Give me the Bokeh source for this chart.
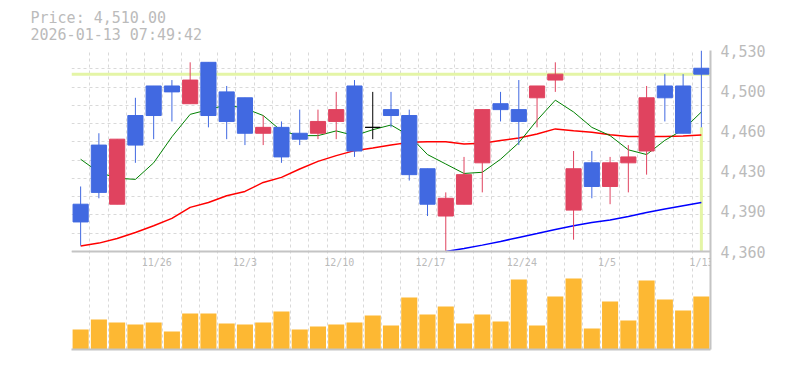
from bokeh.plotting import figure
from bokeh.models import Range1d, FixedTicker, Span, ColumnDataSource, LabelSet
from bokeh.core.properties import value
from bokeh.embed import file_html
from bokeh.resources import INLINE

# ---------------- data ----------------
dates = ["11/19", "11/20", "11/21", "11/25", "11/26", "11/27", "11/28", "12/1", "12/2", "12/3",
         "12/4", "12/5", "12/8", "12/9", "12/10", "12/11", "12/12", "12/15", "12/16", "12/17",
         "12/18", "12/19", "12/22", "12/23", "12/24", "12/25", "12/26", "12/29", "12/30", "1/5",
         "1/6", "1/7", "1/8", "1/9", "1/13"]
opens = [4400, 4450, 4400, 4475, 4500, 4500, 4485, 4520, 4495, 4490,
         4460, 4465, 4460, 4460, 4470, 4500, 4465, 4480, 4475, 4430,
         4390, 4400, 4435, 4485, 4480, 4490, 4505, 4395, 4435, 4415,
         4435, 4445, 4500, 4500, 4515]
highs = [4415, 4460, 4455, 4490, 4500, 4505, 4520, 4520, 4500, 4490,
         4475, 4470, 4480, 4480, 4495, 4505, 4495, 4495, 4480, 4430,
         4410, 4440, 4480, 4495, 4505, 4500, 4520, 4445, 4445, 4440,
         4450, 4500, 4510, 4510, 4530]
lows = [4365, 4405, 4400, 4435, 4455, 4470, 4485, 4465, 4455, 4450,
        4450, 4435, 4450, 4455, 4455, 4440, 4455, 4465, 4420, 4390,
        4360, 4400, 4410, 4470, 4450, 4465, 4495, 4370, 4405, 4400,
        4410, 4425, 4470, 4460, 4465]
closes = [4385, 4410, 4455, 4450, 4475, 4495, 4505, 4475, 4470, 4460,
          4465, 4440, 4455, 4470, 4480, 4445, 4465, 4475, 4425, 4400,
          4405, 4425, 4480, 4480, 4470, 4500, 4510, 4430, 4415, 4435,
          4440, 4490, 4490, 4460, 4510]
volumes = [200, 300, 270, 250, 270, 180, 360, 360, 260, 250,
           270, 380, 200, 230, 250, 270, 340, 240, 520, 350,
           430, 260, 350, 280, 700, 240, 530, 710, 210, 480,
           290, 690, 500, 390, 530]
ma_short = [4438, 4427, 4422, 4421, 4435, 4457, 4476, 4480, 4484, 4481,
            4475, 4462, 4458, 4458, 4462, 4458, 4463, 4467, 4458, 4442,
            4434, 4426, 4427, 4438, 4452, 4471, 4488, 4478, 4465, 4458,
            4446, 4442, 4454, 4463, 4478]
ma_mid = [4364.6, 4367.1, 4371.0, 4376.1, 4381.8, 4388.0, 4397.3, 4401.5, 4407.2, 4410.8,
          4418.4, 4422.7, 4429.8, 4436.2, 4441.1, 4445.3, 4447.6, 4450.1, 4452.3, 4452.9,
          4452.9, 4451.0, 4451.5, 4453.8, 4456.0, 4459.4, 4463.7, 4462.2, 4460.8, 4458.8,
          4457.2, 4457.2, 4457.2, 4457.7, 4458.6]
nan = float("nan")
ma_long = [nan] * 20 + [4360.0, 4362.5, 4365.4, 4368.5, 4371.9, 4375.2, 4378.6, 4381.8,
                        4384.6, 4386.6, 4389.6, 4393.0, 4395.9, 4398.7, 4401.5]
tick_labels = ["11/26", "12/3", "12/10", "12/17", "12/24", "1/5", "1/13"]
current_price = 4510
timestamp = "2026-01-13 07:49:42"

# ---------------- styling / layout ----------------
RED = "#e0435f"
BLUE = "#4169e1"
ORANGE = "#fdb833"
LIME = "#e4f5a6"
TXT = "#bbbbbb"
BORDER = "#c4c4c4"
GRID = "#d9d9d9"
MONO = "DejaVu Sans Mono"
PRICE_PX, VOL_PX, FRAME_W = 201, 98, 639
VOL_PER_PX = 10

N = len(dates)
idx = list(range(N))
price_lo, price_hi = min(lows), max(highs)
price_span = price_hi - price_lo
y_start = price_lo - VOL_PX * price_span / PRICE_PX

colors = [RED if c > o else (BLUE if c < o else "black") for o, c in zip(opens, closes)]
src = ColumnDataSource(dict(
    x=idx, h=highs, l=lows,
    top=[max(o, c) for o, c in zip(opens, closes)],
    bottom=[min(o, c) for o, c in zip(opens, closes)],
    color=colors, vol=volumes,
))

p = figure(frame_width=FRAME_W, frame_height=PRICE_PX + VOL_PX,
           x_range=Range1d(-0.5, N - 0.5), y_range=Range1d(y_start, price_hi),
           y_axis_location="right", toolbar_location=None, output_backend="svg",
           min_border_left=71, min_border_right=60, min_border_top=50, min_border_bottom=10,
           title=f"Price: {current_price:,.2f}\n{timestamp}")
p.extra_y_ranges = {"vol": Range1d(0, (PRICE_PX + VOL_PX) * VOL_PER_PX)}
p.outline_line_color = None

p.title.text_font = MONO
p.title.text_font_size = "15px"
p.title.text_font_style = "normal"
p.title.text_color = TXT
p.title.align = "left"
p.title.offset = -41
p.title.standoff = 13
p.title.text_line_height = 0.92

# grids
p.xgrid.ticker = FixedTicker(ticks=[i - 0.5 for i in range(N + 1)])
p.ygrid.ticker = FixedTicker(ticks=[price_lo + k * price_span / 11 for k in range(12)])
for g in (p.xgrid, p.ygrid):
    g.grid_line_color = GRID
    g.grid_line_dash = "3 3"
    g.grid_line_width = 1

# right price axis
yt = [price_lo + k * price_span / 5 for k in range(6)]
p.yaxis.ticker = FixedTicker(ticks=yt)
p.yaxis.major_label_overrides = {t: f"{int(round(t / 10.0)) * 10:,}" for t in yt}
p.yaxis.major_tick_out = 0
p.yaxis.major_tick_in = 0
p.yaxis.minor_tick_out = 0
p.yaxis.minor_tick_in = 0
p.yaxis.major_label_standoff = 10
p.yaxis.major_label_text_font = MONO
p.yaxis.major_label_text_font_size = "15px"
p.yaxis.major_label_text_color = TXT
p.yaxis.axis_line_color = BORDER
p.yaxis.axis_line_width = 2

# bottom axis: line only
p.xaxis.ticker = FixedTicker(ticks=[])
p.xaxis.major_tick_out = 0
p.xaxis.major_tick_in = 0
p.xaxis.minor_tick_out = 0
p.xaxis.minor_tick_in = 0
p.xaxis.major_label_text_font_size = "0px"
p.xaxis.major_label_standoff = 0
p.xaxis.axis_line_color = BORDER
p.xaxis.axis_line_width = 2

# current price line and marker
p.add_layout(Span(location=current_price, dimension="width", line_color=LIME,
                  line_width=3, level="underlay"))
p.segment(x0=[idx[-1]], y0=[lows[-1]], x1=[idx[-1]], y1=[price_lo],
          line_color=LIME, line_width=3)

# moving averages
p.line(idx, ma_long, line_color="blue", line_width=1.5)
p.line(idx, ma_mid, line_color="red", line_width=1.5)
p.line(idx, ma_short, line_color="green", line_width=1)

# volume
p.vbar(x="x", top="vol", bottom=0, width=0.88, source=src, y_range_name="vol",
       fill_color=ORANGE, line_color=None)

# candles
p.segment(x0="x", y0="h", x1="x", y1="l", line_color="color", line_width=1, source=src)
p.vbar(x="x", top="top", bottom="bottom", width=0.83, fill_color="color",
       line_color="color", line_width=1, source=src)

# separator between price and volume panels
p.add_layout(Span(location=price_lo, dimension="width", line_color=BORDER, line_width=2))

# date labels (annotation, so the last one is not clipped at the frame edge)
lab_x = [dates.index(t) for t in tick_labels]
lab_src = ColumnDataSource(dict(x=lab_x, y=[price_lo] * len(lab_x), text=tick_labels))
p.add_layout(LabelSet(x="x", y="y", text="text", source=lab_src,
                      text_font=value(MONO), text_font_size=value("10px"),
                      text_color=value(TXT), text_align="left", text_baseline="top",
                      x_offset=-12, y_offset=-5))

open("out.html", "w").write(file_html(p, INLINE))
